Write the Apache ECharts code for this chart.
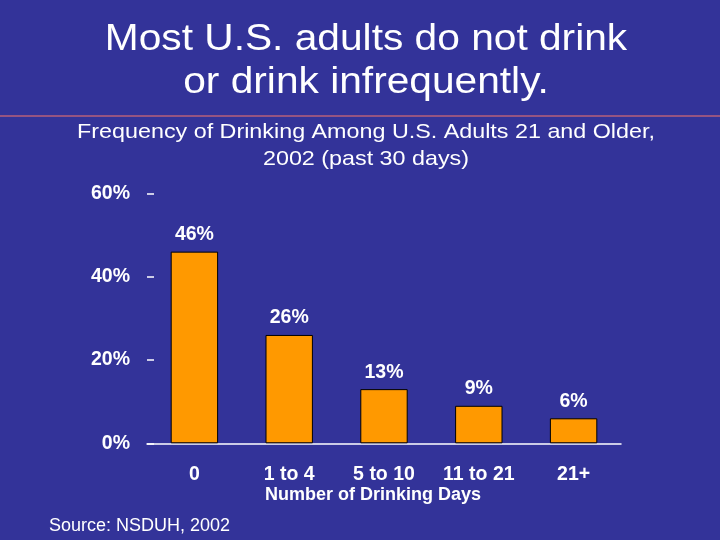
<!DOCTYPE html>
<html>
<head>
<meta charset="utf-8">
<script src="https://cdn.jsdelivr.net/npm/echarts@6/dist/echarts.min.js"></script>
<style>
html,body{margin:0;padding:0;background:#333399;}
#c{width:720px;height:540px;}
</style>
</head>
<body>
<div id="c"></div>
<script>
var categories = ['0', '1 to 4', '5 to 10', '11 to 21', '21+'];
var values = [46, 26, 13, 9, 6];
var yMin = 0, yMax = 60, yStep = 20;
var titleLines = ['Most U.S. adults do not drink', 'or drink infrequently.'];
var subtitleLines = ['Frequency of Drinking Among U.S. Adults 21 and Older,', '2002 (past 30 days)'];
var xAxisName = 'Number of Drinking Days';
var sourceText = 'Source: NSDUH, 2002';

var FONT = 'Arial, "Liberation Sans", sans-serif';
var chart = echarts.init(document.getElementById('c'));
chart.setOption({
  backgroundColor: '#333399',
  animation: false,
  grid: {left: 147, right: 99, top: 193.3, bottom: 96.7, containLabel: false},
  xAxis: {
    type: 'category',
    data: categories,
    axisLine: {show: true, lineStyle: {color: '#ffffff', width: 1.5}},
    axisTick: {show: false},
    axisLabel: {color: '#ffffff', fontWeight: 'bold', fontSize: 19.5, fontFamily: FONT, margin: 21}
  },
  yAxis: {
    type: 'value',
    min: yMin, max: yMax, interval: yStep,
    splitLine: {show: false},
    axisLine: {show: false},
    axisTick: {show: true, inside: true, length: 7, lineStyle: {color: '#ffffff', width: 1.5}},
    axisLabel: {color: '#ffffff', fontWeight: 'bold', fontSize: 19.5, fontFamily: FONT, margin: 17, formatter: '{value}%'}
  },
  series: [{
    type: 'bar',
    data: values,
    barWidth: '50%',
    itemStyle: {color: '#ff9900', borderColor: '#000000', borderWidth: 1},
    label: {show: true, position: 'top', distance: 7, color: '#ffffff', fontWeight: 'bold', fontSize: 19.5, fontFamily: FONT, formatter: '{c}%'}
  }],
  graphic: [
    {type: 'text', x: 366, y: 40, scaleX: 1.13, style: {text: titleLines[0], x: 0, y: 0, fill: '#ffffff', font: '36px ' + FONT, textAlign: 'center', textVerticalAlign: 'middle'}},
    {type: 'text', x: 366, y: 83, scaleX: 1.13, style: {text: titleLines[1], x: 0, y: 0, fill: '#ffffff', font: '36px ' + FONT, textAlign: 'center', textVerticalAlign: 'middle'}},
    {type: 'line', shape: {x1: 0, y1: 116, x2: 720, y2: 116}, style: {stroke: '#b8607a', lineWidth: 1.5}},
    {type: 'text', x: 366, y: 132, scaleX: 1.11, style: {text: subtitleLines[0], x: 0, y: 0, fill: '#ffffff', font: '21px ' + FONT, textAlign: 'center', textVerticalAlign: 'middle'}},
    {type: 'text', x: 366, y: 159, scaleX: 1.11, style: {text: subtitleLines[1], x: 0, y: 0, fill: '#ffffff', font: '21px ' + FONT, textAlign: 'center', textVerticalAlign: 'middle'}},
    {type: 'text', x: 373, y: 495, style: {text: xAxisName, x: 0, y: 0, fill: '#ffffff', font: 'bold 18px ' + FONT, textAlign: 'center', textVerticalAlign: 'middle'}},
    {type: 'text', x: 49, y: 526, style: {text: sourceText, x: 0, y: 0, fill: '#ffffff', font: '18px ' + FONT, textAlign: 'left', textVerticalAlign: 'middle'}}
  ]
});
</script>
</body>
</html>
